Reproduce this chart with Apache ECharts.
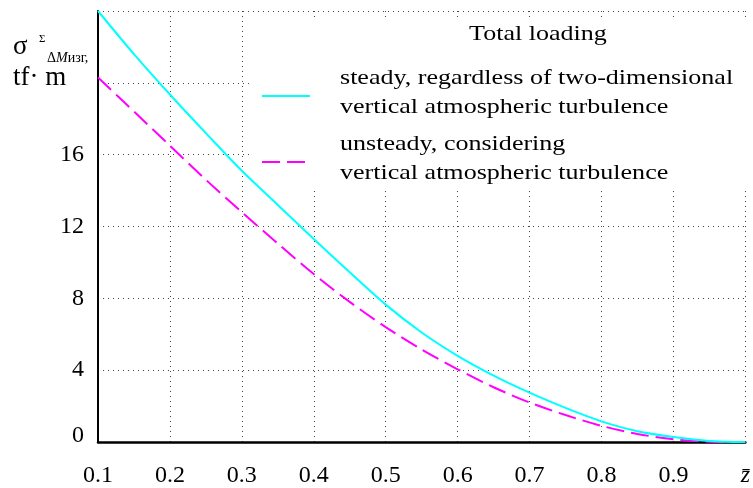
<!DOCTYPE html>
<html>
<head>
<meta charset="utf-8">
<script src="https://cdn.jsdelivr.net/npm/echarts@6/dist/echarts.min.js"></script>
<style>
  html, body { margin: 0; padding: 0; background: #ffffff; }
  #chart { width: 753px; height: 488px; }
</style>
</head>
<body>
<div id="chart"></div>
<script>
// Relative coordinate along the span, z
const zValues = [0.1, 0.15, 0.2, 0.25, 0.3, 0.35, 0.4, 0.45, 0.5, 0.55, 0.6, 0.65, 0.7, 0.75, 0.8, 0.85, 0.9, 0.95, 1.0];

// Standard deviation of the total bending moment increment, tf·m
const steadyMoment   = [24.0, 21.6, 19.35, 17.2, 15.1, 13.2, 11.3, 9.45, 7.65, 6.1, 4.8, 3.7, 2.75, 1.9, 1.15, 0.6, 0.28, 0.06, 0.0];
const unsteadyMoment = [20.3, 18.4, 16.5, 14.6, 12.8, 11.05, 9.35, 7.8, 6.4, 5.15, 4.05, 3.05, 2.2, 1.5, 0.9, 0.45, 0.15, 0.02, 0.0];

const seriesNames = [
  'steady, regardless of two-dimensional\nvertical atmospheric turbulence',
  'unsteady, considering\nvertical atmospheric turbulence'
];
const legendTitle = 'Total loading';

// Tick labels
const xTickLabels = ['0.1', '0.2', '0.3', '0.4', '0.5', '0.6', '0.7', '0.8', '0.9', 'z\u0304'];
const yTickLabels = ['0', '4', '8', '12', '16'];

const SERIF = 'Liberation Serif';
const CYAN = '#00ffff';
const MAGENTA = '#ff00ff';

const chart = echarts.init(document.getElementById('chart'), null, { renderer: 'canvas' });

const pairs = (ys) => zValues.map((z, i) => [z, ys[i]]);

const gridLineStyle = { color: '#444', width: 1, type: [1, 4] };

const option = {
  animation: false,
  backgroundColor: '#ffffff',
  textStyle: { fontFamily: SERIF },
  grid: { left: 98, right: 3, top: 11, bottom: 45, containLabel: false },
  xAxis: {
    type: 'value',
    min: 0.1,
    max: 1.0,
    interval: 0.1,
    axisLine: { show: true, onZero: false, lineStyle: { color: '#000', width: 2.5 } },
    axisTick: { show: false },
    splitLine: { show: true, lineStyle: gridLineStyle },
    axisLabel: {
      margin: 22,
      color: '#000',
      fontFamily: SERIF,
      fontSize: 24,
      showMaxLabel: true,
      formatter: (v) => {
        const idx = Math.round(v * 10) - 1;
        if (idx === xTickLabels.length - 1) return '{z|' + xTickLabels[idx] + '}';
        return xTickLabels[idx] || '';
      },
      rich: {
        z: { fontFamily: SERIF, fontSize: 24, fontStyle: 'italic', color: '#000' }
      }
    }
  },
  yAxis: {
    type: 'value',
    min: 0,
    max: 24,
    interval: 4,
    axisLine: { show: true, onZero: false, lineStyle: { color: '#000', width: 2 } },
    axisTick: { show: false },
    splitLine: { show: true, lineStyle: gridLineStyle },
    axisLabel: {
      margin: 14,
      color: '#000',
      fontFamily: SERIF,
      fontSize: 24,
      formatter: (v) => {
        const s = String(v);
        if (!yTickLabels.includes(s)) return '';
        return v === 0 ? '{b|' + s + '}' : s;
      },
      rich: {
        b: { fontFamily: SERIF, fontSize: 24, color: '#000', padding: [0, 0, 12, 0] }
      }
    }
  },
  graphic: [
    // Legend box
    {
      type: 'rect', z: 1, silent: true,
      shape: { x: 252, y: 17, width: 494, height: 173 },
      style: { fill: '#ffffff' }
    },
    {
      type: 'text', z: 3, x: 538, y: 34, scaleX: 1.24,
      style: { text: legendTitle, fontFamily: SERIF, fontSize: 21, fill: '#000', align: 'center', verticalAlign: 'middle' }
    },
    {
      type: 'line', z: 3,
      shape: { x1: 262, y1: 96, x2: 310, y2: 96 },
      style: { stroke: CYAN, lineWidth: 2 }
    },
    {
      type: 'text', z: 3, x: 340, y: 92.5, scaleX: 1.24,
      style: { text: seriesNames[0], fontFamily: SERIF, fontSize: 21, fill: '#000', align: 'left', verticalAlign: 'middle', lineHeight: 29 }
    },
    {
      type: 'line', z: 3,
      shape: { x1: 262, y1: 162, x2: 306, y2: 162 },
      style: { stroke: MAGENTA, lineWidth: 2, lineDash: [18, 7] }
    },
    {
      type: 'text', z: 3, x: 340, y: 159, scaleX: 1.24,
      style: { text: seriesNames[1], fontFamily: SERIF, fontSize: 21, fill: '#000', align: 'left', verticalAlign: 'middle', lineHeight: 28.5 }
    },
    // Y axis title: sigma with superscript Sigma and subscript ΔMизг
    {
      type: 'text', z: 3, x: 13, y: 47,
      style: { text: 'σ', fontFamily: SERIF, fontSize: 27, fill: '#000', align: 'left', verticalAlign: 'middle' }
    },
    {
      type: 'text', z: 3, x: 39, y: 39,
      style: { text: 'Σ', fontFamily: SERIF, fontSize: 11, fill: '#000', align: 'left', verticalAlign: 'middle' }
    },
    {
      type: 'text', z: 3, x: 47, y: 58,
      style: {
        text: '{n|Δ}{i|M}{n|изг,}',
        fontFamily: SERIF, fontSize: 14, fill: '#000', align: 'left', verticalAlign: 'middle',
        rich: {
          n: { fontFamily: SERIF, fontSize: 14, color: '#000' },
          i: { fontFamily: SERIF, fontSize: 14, fontStyle: 'italic', color: '#000' }
        }
      }
    },
    {
      type: 'text', z: 3, x: 13, y: 78,
      style: { text: 'tf· m', fontFamily: SERIF, fontSize: 27, fill: '#000', align: 'left', verticalAlign: 'middle' }
    }
  ],
  series: [
    {
      name: seriesNames[1],
      type: 'line',
      z: 4,
      data: pairs(unsteadyMoment),
      smooth: 0.3,
      showSymbol: false,
      lineStyle: { color: MAGENTA, width: 2, type: [18, 7] },
      itemStyle: { color: MAGENTA }
    },
    {
      name: seriesNames[0],
      type: 'line',
      z: 5,
      data: pairs(steadyMoment),
      smooth: 0.3,
      showSymbol: false,
      lineStyle: { color: CYAN, width: 2 },
      itemStyle: { color: CYAN }
    }
  ]
};

chart.setOption(option);
</script>
</body>
</html>
